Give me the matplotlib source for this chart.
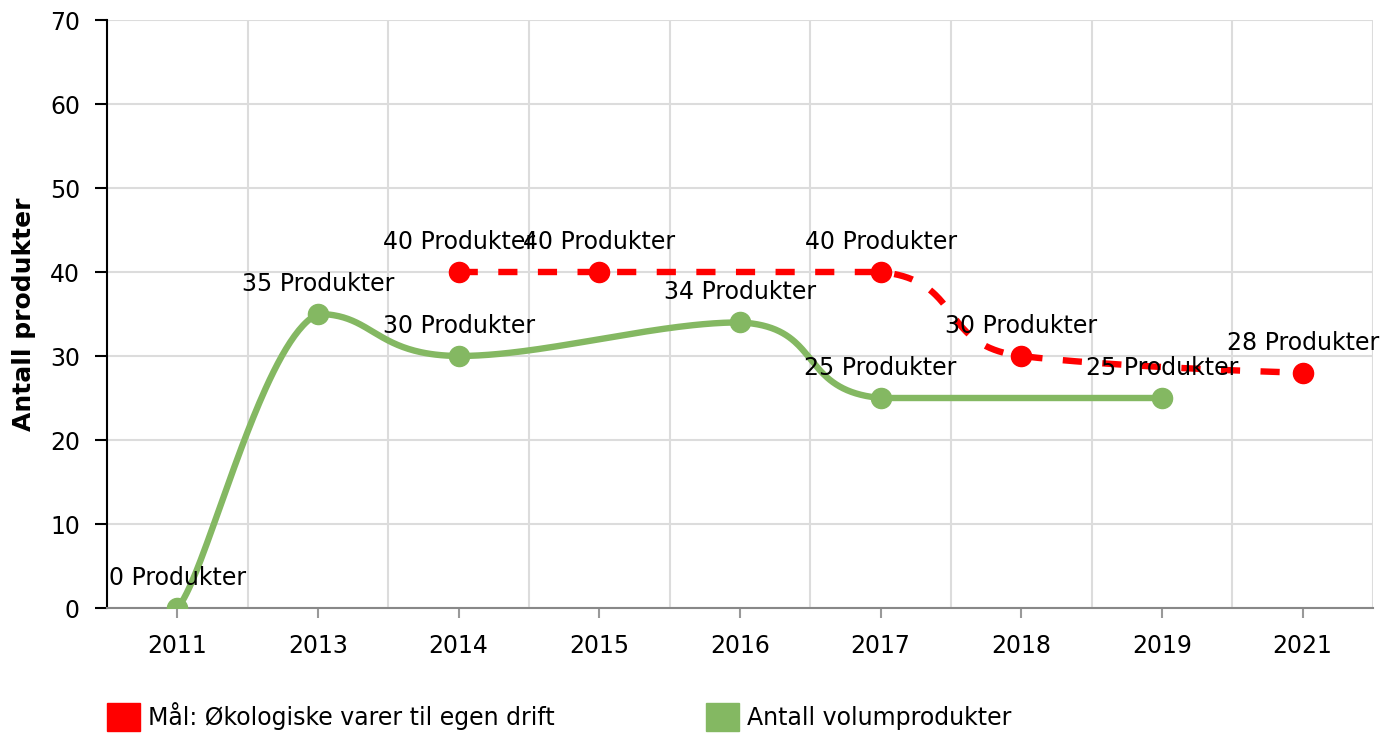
import numpy as np
import matplotlib.pyplot as plt
from matplotlib.patches import Patch

years = ['2011', '2013', '2014', '2015', '2016', '2017', '2018', '2019', '2021']
goal = [None, None, 40, 40, None, 40, 30, None, 28]
volume = [0, 35, 30, None, 34, 25, None, 25, None]

goal_label = 'Mål: Økologiske varer til egen drift'
volume_label = 'Antall volumprodukter'
red = '#ff0000'
green = '#84b862'


def spline(xs, ys, tx=0.2, ty=0.1, n=80):
    # tension spline, control points clamped between the segment ends
    k = len(xs)
    t = np.linspace(0, 1, n)[:, None]
    pts = []
    for i in range(k - 1):
        i0 = max(i - 1, 0)
        i3 = min(i + 2, k - 1)
        x1, y1, x2, y2 = xs[i], ys[i], xs[i + 1], ys[i + 1]
        ax_ = x1 + (x2 - xs[i0]) * tx
        ay_ = y1 + (y2 - ys[i0]) * ty
        bx_ = x2 - (xs[i3] - x1) * tx
        by_ = y2 - (ys[i3] - y1) * ty
        lo, hi = min(y1, y2), max(y1, y2)
        ay_ = min(max(ay_, lo), hi)
        by_ = min(max(by_, lo), hi)
        p0 = np.array([x1, y1])
        p1 = np.array([ax_, ay_])
        p2 = np.array([bx_, by_])
        p3 = np.array([x2, y2])
        b = (1 - t)**3 * p0 + 3 * (1 - t)**2 * t * p1 + 3 * (1 - t) * t**2 * p2 + t**3 * p3
        pts.append(b)
    pts = np.vstack(pts)
    return pts[:, 0], pts[:, 1]


fig = plt.figure(figsize=(13.96, 7.4), dpi=100)
ax = fig.add_axes([107 / 1396, 1 - 608 / 740, 1266 / 1396, 588 / 740])

fs = 17
for vals, col, ls in [(goal, red, (0, (3.0, 3.2))), (volume, green, '-')]:
    xi = [i for i, v in enumerate(vals) if v is not None]
    yi = [v for v in vals if v is not None]
    cx, cy = spline(xi, yi)
    ax.plot(cx, cy, color=col, lw=4.6, ls=ls, zorder=3, solid_capstyle='butt')
    ax.plot(xi, yi, 'o', color=col, ms=14.5, zorder=4)
    for x, y in zip(xi, yi):
        ax.annotate(f'{y} Produkter', (x, y), xytext=(0, 16.5), textcoords='offset points',
                    ha='center', va='baseline', fontsize=fs, zorder=5)

ax.set_xlim(-0.5, len(years) - 0.5)
ax.set_ylim(0, 70)
ax.set_xticks(range(len(years)))
ax.set_xticklabels(years, fontsize=fs)
ax.set_xticks(np.arange(-0.5, len(years)), minor=True)
ax.set_yticks(range(0, 71, 10))
ax.tick_params(axis='y', labelsize=fs, length=9, width=1.5, color='black', pad=10.5)
ax.tick_params(axis='x', which='major', length=7, width=1.5, color='#999999', pad=12)
ax.tick_params(axis='x', which='minor', length=0)
ax.grid(True, axis='y', color='#dcdcdc', lw=1.5)
ax.grid(True, axis='x', which='minor', color='#dcdcdc', lw=1.5)
ax.set_axisbelow(True)
for s in ['top', 'right']:
    ax.spines[s].set_visible(False)
ax.spines['left'].set_linewidth(1.5)
ax.spines['bottom'].set_color('#888888')
ax.spines['bottom'].set_linewidth(1.5)
ax.set_ylabel('Antall produkter', fontsize=18, fontweight='bold', labelpad=10)

handles = [Patch(color=red, label=goal_label), Patch(color=green, label=volume_label)]
fig.legend(handles=handles, loc='upper left', bbox_to_anchor=(107 / 1396, 1 - 702 / 740),
           ncol=2, frameon=False, fontsize=fs, handlelength=1.4, handleheight=1.4,
           handletextpad=0.34, columnspacing=6.4, borderpad=0, borderaxespad=0)

fig.savefig('out.png', dpi=100)
